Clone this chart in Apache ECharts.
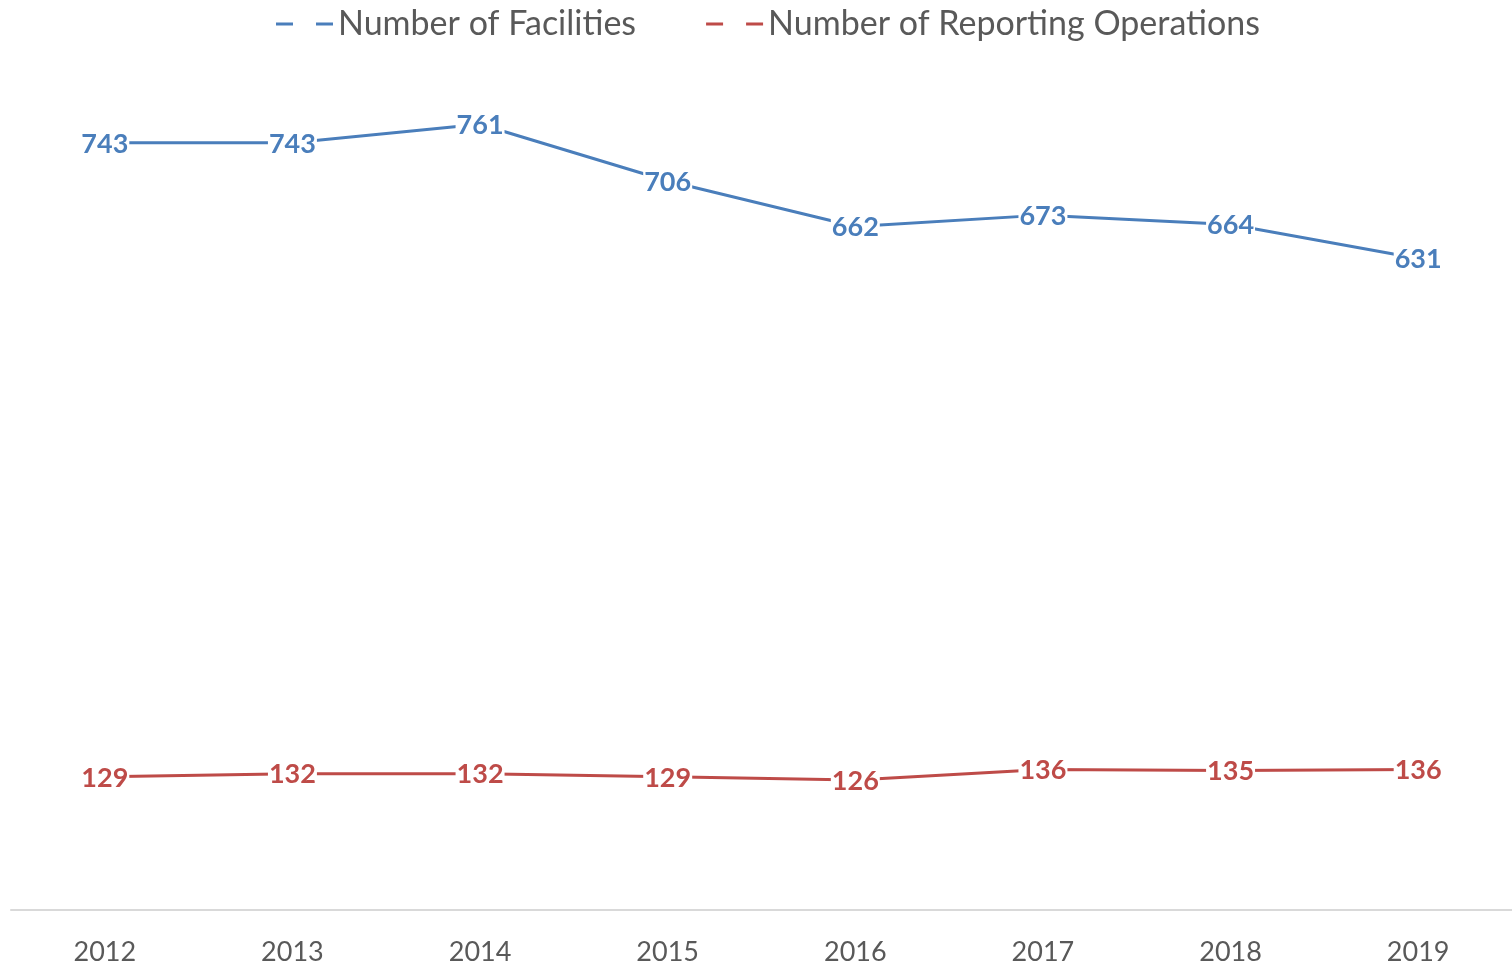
<!DOCTYPE html>
<html>
<head>
<meta charset="utf-8">
<script src="https://cdn.jsdelivr.net/npm/echarts@6/dist/echarts.min.js"></script>
<style>
  html, body { margin: 0; padding: 0; background: #fff; }
  #chart { width: 1512px; height: 966px; }
</style>
</head>
<body>
<div id="chart"></div>
<script>
// 数据
const years = ['2012', '2013', '2014', '2015', '2016', '2017', '2018', '2019'];
const facilities = [743, 743, 761, 706, 662, 673, 664, 631];
const operations = [129, 132, 132, 129, 126, 136, 135, 136];

const myChart = echarts.init(document.getElementById('chart'));

const dashIcon = 'path://M0,0h17v3h-17z M40,0h17v3h-17z';

function labelOf(color) {
    return {
        show: true,
        position: 'inside',
        offset: [0, 1],
        color: color,
        fontFamily: 'Lato',
        fontWeight: 'bold',
        fontSize: 27,
        backgroundColor: '#fff',
        padding: [0, 1]
    };
}

const option = {
    animation: false,
    legend: {
        top: 2,
        left: 271,
        itemWidth: 57,
        itemHeight: 3,
        itemGap: 70,
        textStyle: { color: '#595959', fontSize: 34, fontFamily: 'Lato' },
        data: [
            { name: 'Number of Facilities', icon: dashIcon },
            { name: 'Number of Reporting Operations', icon: dashIcon }
        ]
    },
    grid: { left: 11, width: 1504, top: 84, bottom: 56, containLabel: false },
    xAxis: {
        type: 'category',
        data: years,
        boundaryGap: true,
        axisLine: { lineStyle: { color: '#d9d9d9', width: 2 } },
        axisTick: { show: false },
        axisLabel: { color: '#595959', fontSize: 27, fontFamily: 'Lato', margin: 29 }
    },
    yAxis: {
        type: 'value',
        min: 0,
        max: 800,
        show: false,
        splitLine: { show: false }
    },
    series: [
        {
            name: 'Number of Facilities',
            type: 'line',
            data: facilities,
            symbol: 'circle',
            symbolSize: 1,
            showSymbol: true,
            color: '#4a7ebb',
            lineStyle: { width: 3, color: '#4a7ebb' },
            label: labelOf('#4a7ebb'),
            z: 2
        },
        {
            name: 'Number of Reporting Operations',
            type: 'line',
            data: operations,
            symbol: 'circle',
            symbolSize: 1,
            showSymbol: true,
            color: '#be4b48',
            lineStyle: { width: 3, color: '#be4b48' },
            label: labelOf('#be4b48'),
            z: 2
        }
    ]
};

myChart.setOption(option);
</script>
</body>
</html>
